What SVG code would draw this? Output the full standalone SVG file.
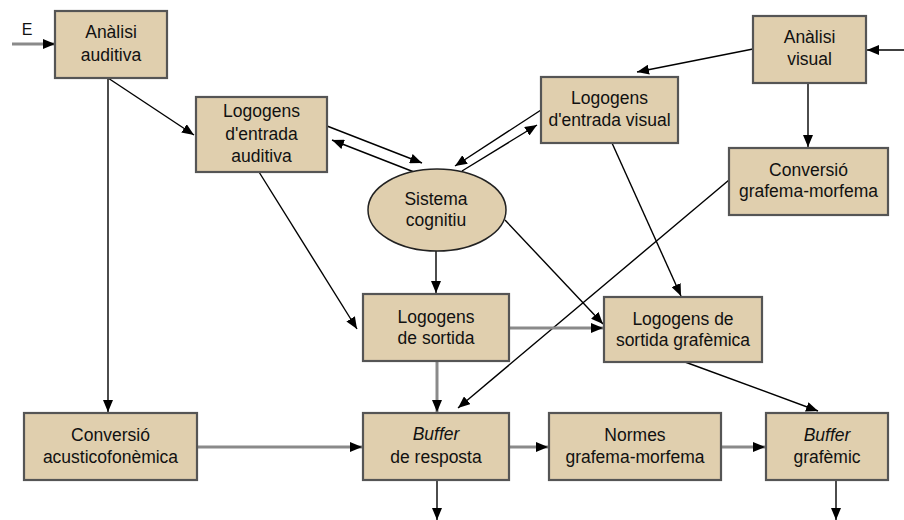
<svg xmlns="http://www.w3.org/2000/svg" width="904" height="520" viewBox="0 0 904 520">
  <defs>
    <marker id="arrow" viewBox="0 0 12 10" refX="12" refY="5" markerWidth="12" markerHeight="10" markerUnits="userSpaceOnUse" orient="auto">
      <path d="M0,0 L12,5 L0,10 Z" fill="#000"/>
    </marker>
    <style>
      .box { fill: #e0cfae; stroke: #555; stroke-width: 2.2; }
      .lbl { font-family: "Liberation Sans", Arial, sans-serif; font-size: 17.5px; fill: #111; text-anchor: middle; }
      .it { font-style: italic; }
      .thin { fill: none; stroke: #000; stroke-width: 1.4; marker-end: url(#arrow); }
      .wide { fill: none; stroke: #8a8a8a; stroke-width: 3; marker-end: url(#arrow); }
    </style>
  </defs>

  <!-- connectors -->
  <g id="connectors">
    <line class="wide" x1="12" y1="44" x2="55" y2="44"/>
    <line class="thin" x1="108" y1="78" x2="194" y2="135"/>
    <line class="thin" x1="108" y1="78" x2="108" y2="412"/>
    <line class="thin" x1="327" y1="126" x2="422" y2="163"/>
    <line class="thin" x1="414" y1="172" x2="332" y2="140"/>
    <line class="thin" x1="541" y1="110" x2="455" y2="166"/>
    <line class="thin" x1="462" y1="171" x2="537" y2="125"/>
    <line class="thin" x1="753" y1="49" x2="637" y2="72"/>
    <line class="thin" x1="904" y1="50" x2="867" y2="50"/>
    <line class="thin" x1="808" y1="83" x2="808" y2="147"/>
    <line class="thin" x1="259" y1="172" x2="357" y2="329"/>
    <line class="thin" x1="612" y1="143" x2="681" y2="296"/>
    <line class="thin" x1="436" y1="251" x2="436" y2="293"/>
    <line class="thin" x1="505" y1="220" x2="603" y2="324"/>
    <line class="thin" x1="729" y1="180" x2="458" y2="408"/>
    <line class="wide" x1="509" y1="328" x2="603" y2="328"/>
    <line class="wide" x1="437" y1="361" x2="437" y2="412"/>
    <line class="thin" x1="685" y1="362" x2="818" y2="411"/>
    <line class="wide" x1="197" y1="447" x2="362" y2="447"/>
    <line class="wide" x1="509" y1="447" x2="548" y2="447"/>
    <line class="wide" x1="721" y1="447" x2="765" y2="447"/>
    <line class="thin" x1="437" y1="480" x2="437" y2="520"/>
    <line class="thin" x1="836" y1="480" x2="836" y2="520"/>
  </g>
  <text class="lbl" x="27" y="35" style="font-size:16px">E</text>

  <!-- nodes -->
  <g id="analisi-auditiva">
    <rect class="box" x="55" y="11" width="112" height="67"/>
    <text class="lbl" x="111" y="38">Anàlisi</text>
    <text class="lbl" x="111" y="61">auditiva</text>
  </g>
  <g id="logogens-entrada-auditiva">
    <rect class="box" x="196" y="97" width="131" height="75"/>
    <text class="lbl" x="261.5" y="117">Logogens</text>
    <text class="lbl" x="261.5" y="140">d'entrada</text>
    <text class="lbl" x="261.5" y="162">auditiva</text>
  </g>
  <g id="sistema-cognitiu">
    <ellipse class="box" cx="437" cy="210" rx="69" ry="41" style="stroke:#222;stroke-width:1.5"/>
    <text class="lbl" x="436" y="205">Sistema</text>
    <text class="lbl" x="436" y="226">cognitiu</text>
  </g>
  <g id="logogens-entrada-visual">
    <rect class="box" x="541" y="77" width="137" height="66"/>
    <text class="lbl" x="609.5" y="104">Logogens</text>
    <text class="lbl" x="609.5" y="126">d'entrada visual</text>
  </g>
  <g id="analisi-visual">
    <rect class="box" x="753" y="16" width="113" height="67"/>
    <text class="lbl" x="809.5" y="43">Anàlisi</text>
    <text class="lbl" x="809.5" y="65">visual</text>
  </g>
  <g id="conversio-grafema-morfema">
    <rect class="box" x="729" y="148" width="159" height="67"/>
    <text class="lbl" x="808.5" y="176">Conversió</text>
    <text class="lbl" x="808.5" y="197">grafema-morfema</text>
  </g>
  <g id="logogens-sortida">
    <rect class="box" x="363" y="294" width="146" height="67"/>
    <text class="lbl" x="436" y="323">Logogens</text>
    <text class="lbl" x="436" y="344">de sortida</text>
  </g>
  <g id="logogens-sortida-grafemica">
    <rect class="box" x="604" y="297" width="158" height="65"/>
    <text class="lbl" x="683" y="325">Logogens de</text>
    <text class="lbl" x="683" y="346">sortida grafèmica</text>
  </g>
  <g id="conversio-acusticofonemica">
    <rect class="box" x="24" y="413" width="173" height="67"/>
    <text class="lbl" x="110.5" y="441">Conversió</text>
    <text class="lbl" x="110.5" y="463">acusticofonèmica</text>
  </g>
  <g id="buffer-resposta">
    <rect class="box" x="363" y="413" width="146" height="67"/>
    <text class="lbl it" x="436" y="440">Buffer</text>
    <text class="lbl" x="436" y="463">de resposta</text>
  </g>
  <g id="normes-grafema-morfema">
    <rect class="box" x="549" y="413" width="172" height="67"/>
    <text class="lbl" x="635" y="441">Normes</text>
    <text class="lbl" x="635" y="463">grafema-morfema</text>
  </g>
  <g id="buffer-grafemic">
    <rect class="box" x="766" y="413" width="122" height="67"/>
    <text class="lbl it" x="827" y="441">Buffer</text>
    <text class="lbl" x="827" y="463">grafèmic</text>
  </g>
</svg>
